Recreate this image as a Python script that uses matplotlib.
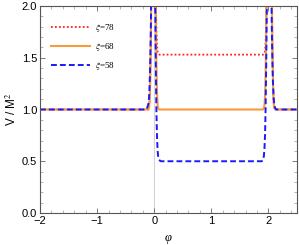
import matplotlib
matplotlib.use("Agg")
import matplotlib.pyplot as plt
from matplotlib.ticker import MultipleLocator

# ---- data ----
labels = [r"$\xi$=78", r"$\xi$=68", r"$\xi$=58"]

phi_r = [-2.0, -0.10, -0.09, -0.08, -0.07, -0.06, -0.05, -0.01, 0.02, 0.03, 0.04, 0.05, 0.06,
         0.07, 0.09, 1.91, 1.93, 1.94, 1.95, 1.96, 1.97, 2.02, 2.06, 2.07, 2.08, 2.09, 2.10, 2.12, 2.5]
V_r = [1.0, 1.0, 1.03, 1.1, 1.3, 1.7, 2.3, 3.0, 2.4, 2.0, 1.75, 1.62, 1.56,
       1.54, 1.53, 1.53, 1.54, 1.57, 1.65, 1.85, 2.3, 3.0, 2.1, 1.6, 1.25, 1.08, 1.02, 1.0, 1.0]

phi_o = [-2.0, -0.11, -0.09, -0.08, -0.07, -0.06, -0.05, -0.01, 0.02, 0.03, 0.04, 0.05, 0.06,
         0.07, 0.09, 1.90, 1.92, 1.93, 1.94, 1.95, 1.96, 1.97, 2.02, 2.06, 2.07, 2.08, 2.09,
         2.10, 2.12, 2.5]
V_o = [1.0, 1.0, 1.02, 1.08, 1.25, 1.6, 2.2, 3.0, 2.3, 1.8, 1.4, 1.15, 1.04,
       1.01, 1.0, 1.0, 1.01, 1.04, 1.12, 1.35, 1.7, 2.2, 3.0, 2.1, 1.6, 1.25, 1.08,
       1.02, 1.0, 1.0]

phi_b = [-2.0, -0.14, -0.12, -0.10, -0.09, -0.08, -0.07, -0.06, -0.05, -0.01, 0.0, 0.01, 0.02,
         0.03, 0.04, 0.05, 0.06, 0.07, 0.08, 0.10, 0.12, 1.88, 1.90, 1.91, 1.92, 1.93, 1.94,
         1.95, 1.96, 1.97, 1.98, 2.02, 2.05, 2.06, 2.07, 2.08, 2.09, 2.10, 2.11, 2.12, 2.14, 2.5]
V_b = [1.0, 1.0, 1.02, 1.06, 1.12, 1.25, 1.45, 1.75, 2.2, 3.0, 3.0, 2.6, 1.9,
       1.3, 0.95, 0.72, 0.6, 0.54, 0.52, 0.505, 0.5, 0.5, 0.505, 0.52, 0.55, 0.62, 0.75,
       1.0, 1.4, 1.9, 2.5, 3.0, 2.2, 1.75, 1.45, 1.25, 1.12, 1.06, 1.03, 1.01, 1.0, 1.0]

xticks = [-2, -1, 0, 1, 2]
yticks = [0.0, 0.5, 1.0, 1.5, 2.0]

plt.rcParams["font.family"] = ["Liberation Sans", "DejaVu Sans"]
plt.rcParams["mathtext.fontset"] = "stix"

fig = plt.figure(figsize=(2.99, 2.45), dpi=100)
ax = fig.add_axes([40 / 299, 1 - 213 / 245, 257 / 299, 207 / 245])

ax.axvline(0, color="#d4d4d4", lw=0.8, zorder=0)

ax.plot(phi_r, V_r, color="#ff2020", lw=1.3, linestyle=(0, (1, 1.2)), label=labels[0])
ax.plot(phi_o, V_o, color="#f99b3a", lw=1.5, linestyle="-", label=labels[1])
ax.plot(phi_b, V_b, color="#1a1aff", lw=1.4, linestyle=(0, (3, 1.6)), label=labels[2])

ax.set_xlim(-2, 2.5)
ax.set_ylim(0, 2.0)
ax.set_xticks(xticks)
ax.set_xticklabels(["\u22122", "\u22121", "0", "1", "2"])
ax.set_yticks(yticks)
ax.set_yticklabels(["0.0", "0.5", "1.0", "1.5", "2.0"])
ax.xaxis.set_minor_locator(MultipleLocator(0.2))
ax.yaxis.set_minor_locator(MultipleLocator(0.1))

for s in ax.spines.values():
    s.set_color("#555555")
    s.set_linewidth(0.8)

ax.tick_params(which="both", direction="in", top=True, right=True, colors="#666666",
               labelcolor="black", labelsize=8)
ax.tick_params(axis="x", pad=2.5)
ax.tick_params(axis="y", pad=2)
ax.tick_params(which="major", length=3.5, width=0.6)
ax.tick_params(which="minor", length=2, width=0.5, colors="#999999")

ax.set_ylabel("V / M$^2$", fontsize=8.5, labelpad=2)
ax.set_xlabel("\u03c6", fontsize=9, family=["Liberation Serif"], style="italic", labelpad=4)

leg = ax.legend(loc="upper left", bbox_to_anchor=(0.01, 0.96), frameon=False,
                handlelength=4.3, handletextpad=0.6, labelspacing=0.75,
                prop={"family": "Liberation Serif", "size": 6.5})

fig.savefig("out.png", dpi=100)
